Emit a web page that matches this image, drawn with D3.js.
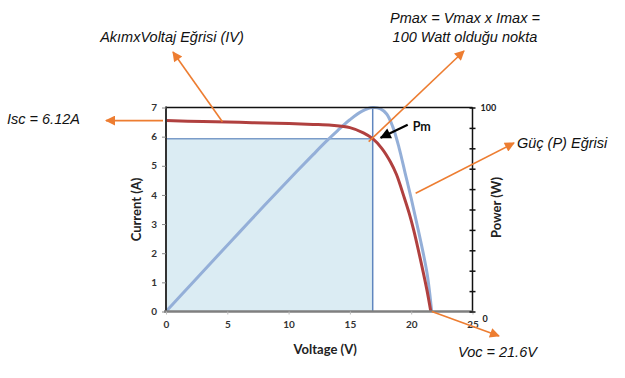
<!DOCTYPE html>
<html><head><meta charset="utf-8">
<script src="https://cdn.jsdelivr.net/npm/d3@7"></script>
<style>html,body{margin:0;padding:0;background:#fff;}svg{display:block;}</style>
</head><body>
<svg id="chart" width="625" height="378"></svg>
<script>
// ---- data ----
const voltageIV = [0, 3, 6, 9, 12, 13.5, 15, 16.1, 16.86, 17.6, 18.3, 18.8, 19.4, 19.85, 20.2, 20.85, 21.3, 21.6];
const currentIV = [6.55, 6.52, 6.49, 6.46, 6.42, 6.39, 6.31, 6.13, 5.93, 5.60, 5.14, 4.70, 3.95, 3.35, 2.80, 1.60, 0.70, 0];
const voltageP = [0, 2, 4, 6, 8, 10, 12, 13, 14, 15, 16, 16.86, 17.5, 18, 18.5, 19, 19.5, 20, 20.5, 21, 21.3, 21.5, 21.67];
const powerP = [0, 13, 26, 38.9, 51.8, 64.5, 76.9, 83, 88.7, 94, 98.2, 100, 99.3, 96.8, 90.5, 80.5, 68, 55.5, 42, 28, 18.5, 9.5, 0];
const xTicks = [0, 5, 10, 15, 20, 25];
const yTicks = [0, 1, 2, 3, 4, 5, 6, 7];
const powerTicks = [0, 10, 20, 30, 40, 50, 60, 70, 80, 90, 100];
const powerTickLabels = ["0", "100"];
const vmp = 16.86, imp = 5.93, voc = 21.6, isc = 6.55;
const xTitle = "Voltage (V)", yTitle = "Current (A)", y2Title = "Power (W)";
const annIV = "AkımxVoltaj Eğrisi (IV)";
const annIsc = "Isc = 6.12A";
const annPmax = ["Pmax = Vmax x Imax =", "100 Watt olduğu nokta"];
const annP = "Güç (P) Eğrisi";
const annVoc = "Voc = 21.6V";
const annPm = "Pm";

// ---- scales ----
const L = 166, R = 472.5, T = 107.5, B = 311.5;
const x = d3.scaleLinear().domain([0, 25]).range([L, R]);
const y = d3.scaleLinear().domain([0, 7]).range([B, T]);
const yP = d3.scaleLinear().domain([0, 100]).range([B, T]);

const svg = d3.select("#chart");
const defs = svg.append("defs");
function marker(id, color, w, h) {
  defs.append("marker").attr("id", id).attr("viewBox", "0 0 10 10")
    .attr("refX", 9).attr("refY", 5).attr("markerUnits", "userSpaceOnUse")
    .attr("markerWidth", w).attr("markerHeight", h).attr("orient", "auto")
    .append("path").attr("d", "M0,0 L10,5 L0,10 z").attr("fill", color);
}
marker("arrO", "#ed7d31", 12, 10);
marker("arrK", "#000", 12, 11);

// rectangle Vmp x Imp
svg.append("rect").attr("x", x(0)).attr("y", y(imp))
  .attr("width", x(vmp) - x(0)).attr("height", y(0) - y(imp))
  .attr("fill", "#dbecf3");
svg.append("line").attr("x1", x(0)).attr("x2", x(vmp)).attr("y1", y(imp)).attr("y2", y(imp))
  .attr("stroke", "#7b9cc9").attr("stroke-width", 1.5);
svg.append("line").attr("x1", x(vmp)).attr("x2", x(vmp)).attr("y1", y(0)).attr("y2", y(7))
  .attr("stroke", "#5f86bf").attr("stroke-width", 1.5);

// curves
const pData = voltageP.map((v, i) => [v, powerP[i]]);
const ivData = voltageIV.map((v, i) => [v, currentIV[i]]);
svg.append("path").datum(pData)
  .attr("d", d3.line().x(d => x(d[0])).y(d => yP(d[1])).curve(d3.curveCatmullRom.alpha(0.5)))
  .attr("fill", "none").attr("stroke", "#94afd8").attr("stroke-width", 3);
svg.append("path").datum(ivData)
  .attr("d", d3.line().x(d => x(d[0])).y(d => y(d[1])).curve(d3.curveCatmullRom.alpha(0.5)))
  .attr("fill", "none").attr("stroke", "#b0403f").attr("stroke-width", 3);

// frame / axes
svg.append("line").attr("x1", L).attr("x2", R).attr("y1", T).attr("y2", T).attr("stroke", "#111").attr("stroke-width", 1.5);
svg.append("line").attr("x1", R).attr("x2", R).attr("y1", T).attr("y2", B).attr("stroke", "#111").attr("stroke-width", 1.5);
svg.append("line").attr("x1", L).attr("x2", L).attr("y1", T - 1).attr("y2", B).attr("stroke", "#333").attr("stroke-width", 2);
svg.append("line").attr("x1", L - 2).attr("x2", R).attr("y1", B).attr("y2", B).attr("stroke", "#7f7f7f").attr("stroke-width", 2.5);

const tickFont = "Lato, 'Liberation Sans', sans-serif";
// left axis
const gy = svg.append("g").attr("transform", `translate(${L},0)`)
  .call(d3.axisLeft(y).tickValues(yTicks).tickSize(4).tickPadding(5).tickFormat(d3.format("d")));
gy.select(".domain").remove();
gy.selectAll("line").attr("stroke", "#888");
gy.selectAll("text").attr("font-family", tickFont).attr("font-weight", "bold").attr("font-size", 10).attr("fill", "#333");

// bottom axis
const gx = svg.append("g").attr("transform", `translate(0,${B})`)
  .call(d3.axisBottom(x).tickValues(xTicks).tickSize(3).tickPadding(6).tickFormat(d3.format("d")));
gx.select(".domain").remove();
gx.selectAll("line").attr("stroke", "#bbb");
gx.selectAll("text").attr("font-family", tickFont).attr("font-weight", "bold").attr("font-size", 10).attr("fill", "#333");

// right axis (power)
const gp = svg.append("g").attr("transform", `translate(${R},0)`)
  .call(d3.axisRight(yP).tickValues(powerTicks).tickSize(0).tickFormat(""));
gp.select(".domain").remove();
gp.selectAll(".tick").append("line").attr("x1", -3).attr("x2", 3).attr("stroke", "#111").attr("stroke-width", 1.5);
svg.append("text").attr("x", R + 8).attr("y", yP(100) + 3).text(powerTickLabels[1])
  .attr("font-family", tickFont).attr("font-weight", "bold").attr("font-size", 9).attr("fill", "#222");
svg.append("text").attr("x", R + 10).attr("y", yP(0) + 10).text(powerTickLabels[0])
  .attr("font-family", tickFont).attr("font-weight", "bold").attr("font-size", 9).attr("fill", "#222");

// axis titles
svg.append("text").attr("x", (L + R) / 2 + 6).attr("y", 354).attr("text-anchor", "middle").text(xTitle)
  .attr("font-family", tickFont).attr("font-weight", "bold").attr("font-size", 13).attr("fill", "#222");
svg.append("text").attr("transform", `translate(141,${(T + B) / 2}) rotate(-90)`).attr("text-anchor", "middle").text(yTitle)
  .attr("font-family", tickFont).attr("font-weight", "bold").attr("font-size", 13).attr("fill", "#222");
svg.append("text").attr("transform", `translate(501,${(T + B) / 2 - 2}) rotate(-90)`).attr("text-anchor", "middle").text(y2Title)
  .attr("font-family", tickFont).attr("font-weight", "bold").attr("font-size", 13).attr("fill", "#222");

// Pm black arrow + label
svg.append("line").attr("x1", x(vmp) + 35).attr("y1", y(imp) - 14).attr("x2", x(vmp) + 8).attr("y2", y(imp) - 1)
  .attr("stroke", "#000").attr("stroke-width", 2.2).attr("marker-end", "url(#arrK)");
svg.append("text").attr("x", x(vmp) + 40).attr("y", y(imp) - 8).text(annPm)
  .attr("font-family", tickFont).attr("font-weight", "bold").attr("font-size", 12.5).attr("fill", "#111");

// orange annotation arrows
function oarrow(x1, y1, x2, y2) {
  svg.append("line").attr("x1", x1).attr("y1", y1).attr("x2", x2).attr("y2", y2)
    .attr("stroke", "#ed7d31").attr("stroke-width", 1.6).attr("marker-end", "url(#arrO)");
}
oarrow(x(4.6), y(6.51), 173, 52);              // IV curve
oarrow(x(0) - 3, y(isc), 106, y(isc));         // Isc
oarrow(x(vmp) - 4, y(imp) + 3, 464, 51);       // Pmax
oarrow(x(20.2) + 2, yP(58) , 514, 143);        // Power curve
oarrow(x(voc) + 1, y(0), 499, 336);            // Voc

const annFont = "'Liberation Sans', Arial, sans-serif";
function ann(t, xx, yy, anchor) {
  svg.append("text").attr("x", xx).attr("y", yy).attr("text-anchor", anchor || "start").text(t)
    .attr("font-family", annFont).attr("font-style", "italic").attr("font-size", 14.5).attr("fill", "#111");
}
ann(annIV, 172, 42, "middle");
ann(annIsc, 7, 124);
ann(annPmax[0], 465, 23, "middle");
ann(annPmax[1], 465, 42, "middle");
ann(annP, 517, 148);
ann(annVoc, 458, 357);
</script>
</body></html>
